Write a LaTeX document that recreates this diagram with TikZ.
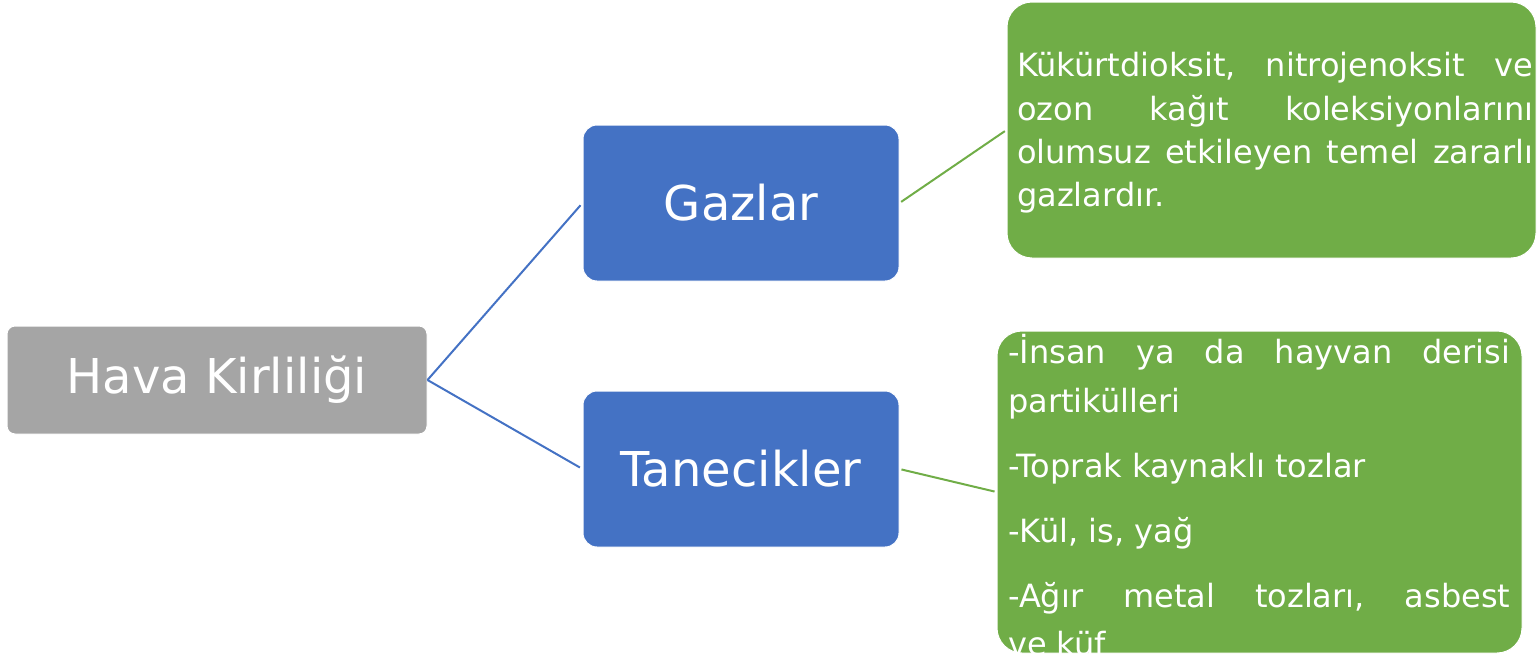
\documentclass[tikz,border=0pt]{standalone}
\usepackage{fontspec}
\setmainfont{DejaVu Sans}
\definecolor{graybox}{HTML}{A5A5A5}
\definecolor{bluebox}{HTML}{4472C4}
\definecolor{greenbox}{HTML}{70AD47}
\tikzset{
  rootbox/.style={draw=white, line width=1pt, fill=graybox, rounded corners=8pt, inner sep=0pt, text=white,
    minimum width=420pt, minimum height=108pt, font=\fontsize{48}{56}\selectfont},
  midbox/.style={draw=white, line width=1pt, fill=bluebox, rounded corners=14pt, inner sep=0pt, text=white,
    minimum width=316pt, minimum height=156pt, font=\fontsize{48}{56}\selectfont},
  leafbox/.style={draw=white, line width=1pt, fill=greenbox, rounded corners=25pt, inner sep=0pt},
  leafline/.style={anchor=base west, inner sep=0pt, text=white, font=\fontsize{32}{38}\selectfont},
  blueconn/.style={draw=bluebox, line width=2pt},
  greenconn/.style={draw=greenbox, line width=2pt},
}
\begin{document}
\begin{tikzpicture}[x=1pt,y=-1pt]
\useasboundingbox (0,0) rectangle (1537,664);
% boxes
\node[rootbox] (hava) at (217,380) {Hava Kirliliği};
\node[midbox] (gaz) at (741,203) {Gazlar};
\node[midbox] (tan) at (741,469) {Tanecikler};
\node[leafbox, minimum width=529pt, minimum height=256pt] (top) at (1271.5,130) {};
\node[leafbox, minimum width=525pt, minimum height=322pt] (bot) at (1259.5,492) {};
% connectors
\draw[blueconn, shorten >=3pt] (hava.east) -- (gaz.west);
\draw[blueconn, shorten >=3pt] (hava.east) -- (tan.west);
\draw[greenconn, shorten <=2pt, shorten >=2pt] (gaz.east) -- (top.west);
\draw[greenconn, shorten <=2pt, shorten >=2pt] (tan.east) -- (bot.west);
% top text
\node[leafline] (t1) at (1017,76) {\hbox to 516pt{Kükürtdioksit,\hfill nitrojenoksit\hfill ve}};
\node[leafline] (t2) at (1017,120) {\hbox to 516pt{ozon\hfill kağıt\hfill koleksiyonlarını}};
\node[leafline] (t3) at (1017,163) {\hbox to 516pt{olumsuz\hfill etkileyen\hfill temel\hfill zararlı}};
\node[leafline] (t4) at (1017,206) {gazlardır.};
% bottom text
\begin{scope}
\clip[rounded corners=25pt] (bot.north west) rectangle (bot.south east);
\node[leafline] (b1) at (1008,363) {\hbox to 502pt{-İnsan\hfill ya\hfill da\hfill hayvan\hfill derisi}};
\node[leafline] (b2) at (1008,412) {partikülleri};
\node[leafline] (b3) at (1008,477) {-Toprak kaynaklı tozlar};
\node[leafline] (b4) at (1008,542) {-Kül, is, yağ};
\node[leafline] (b5) at (1008,607) {\hbox to 502pt{-Ağır\hfill metal\hfill tozları,\hfill asbest}};
\node[leafline] (b6) at (1008,655) {ve küf};
\end{scope}
\end{tikzpicture}
\end{document}
